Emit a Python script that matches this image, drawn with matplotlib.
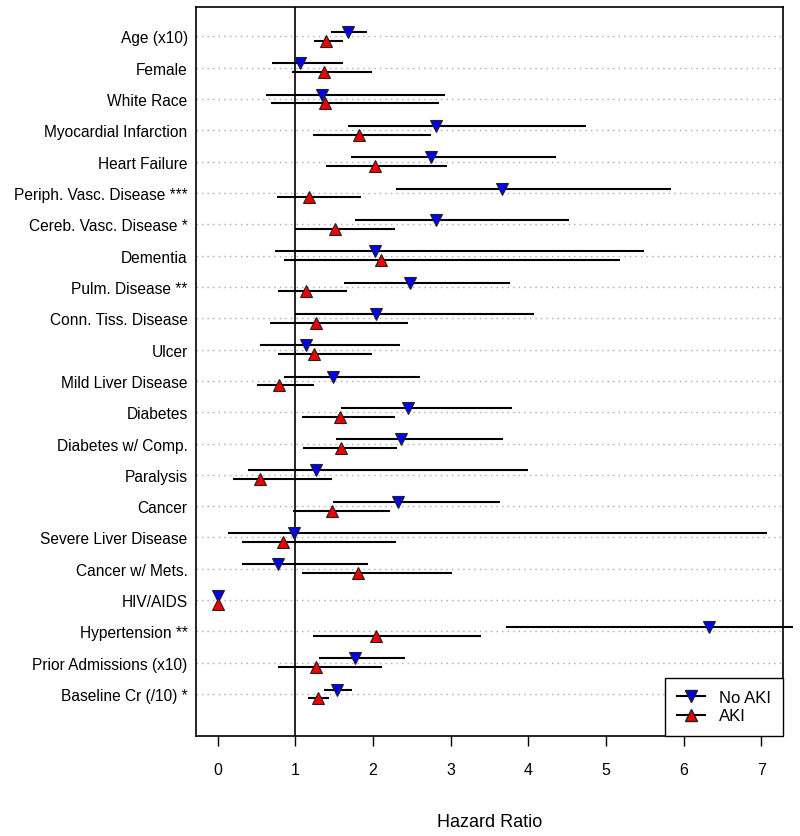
import numpy as np
import matplotlib
matplotlib.use("Agg")
import matplotlib.pyplot as plt
from matplotlib.lines import Line2D

plt.rcParams['font.family'] = ['Liberation Sans', 'DejaVu Sans']

labels = ["Age (x10)", "Female", "White Race", "Myocardial Infarction", "Heart Failure",
          "Periph. Vasc. Disease ***", "Cereb. Vasc. Disease *", "Dementia", "Pulm. Disease **",
          "Conn. Tiss. Disease", "Ulcer", "Mild Liver Disease", "Diabetes", "Diabetes w/ Comp.",
          "Paralysis", "Cancer", "Severe Liver Disease", "Cancer w/ Mets.", "HIV/AIDS",
          "Hypertension **", "Prior Admissions (x10)", "Baseline Cr (/10) *"]

# No AKI: hazard ratio, lower and upper CI
noaki_hr = [1.68, 1.06, 1.34, 2.81, 2.74, 3.66, 2.81, 2.02, 2.47, 2.04, 1.13, 1.49,
            2.45, 2.36, 1.26, 2.32, 0.98, 0.78, 0.0, 6.32, 1.77, 1.54]
noaki_lo = [1.46, 0.70, 0.62, 1.68, 1.72, 2.29, 1.77, 0.74, 1.62, 1.00, 0.55, 0.85,
            1.59, 1.52, 0.39, 1.48, 0.13, 0.31, 0.0, 3.71, 1.30, 1.37]
noaki_hi = [1.92, 1.61, 2.92, 4.74, 4.35, 5.84, 4.52, 5.49, 3.76, 4.07, 2.34, 2.60,
            3.79, 3.67, 4.00, 3.63, 7.07, 1.93, 0.0, 7.40, 2.41, 1.73]

# AKI
aki_hr = [1.40, 1.37, 1.38, 1.82, 2.03, 1.18, 1.51, 2.10, 1.13, 1.27, 1.24, 0.79,
          1.57, 1.59, 0.54, 1.47, 0.84, 1.80, 0.0, 2.04, 1.27, 1.29]
aki_lo = [1.24, 0.95, 0.68, 1.22, 1.39, 0.76, 1.00, 0.85, 0.77, 0.67, 0.78, 0.51,
          1.08, 1.10, 0.20, 0.97, 0.31, 1.08, 0.0, 1.23, 0.77, 1.16]
aki_hi = [1.61, 1.99, 2.85, 2.75, 2.95, 1.85, 2.28, 5.18, 1.66, 2.45, 1.98, 1.24,
          2.28, 2.31, 1.47, 2.22, 2.29, 3.02, 0.0, 3.39, 2.11, 1.43]

n = len(labels)
ypos = np.arange(n, 0, -1)
off = 0.14

fig = plt.figure(figsize=(8, 8.37), dpi=100)
ax = fig.add_axes([0.245, 0.1195, 0.734, 0.8705])

for y in ypos:
    ax.axhline(y, color='#aaaaaa', linestyle=(0, (1, 3)), linewidth=1, zorder=1)
ax.axvline(1, color='black', linewidth=1.2, zorder=2)

for i in range(n):
    y = ypos[i]
    ax.plot([noaki_lo[i], noaki_hi[i]], [y + off, y + off], color='black', linewidth=1.5,
            zorder=3, clip_on=False, solid_capstyle='butt')
    ax.plot([aki_lo[i], aki_hi[i]], [y - off, y - off], color='black', linewidth=1.5,
            zorder=3, clip_on=False, solid_capstyle='butt')

ax.plot(noaki_hr, ypos + off, linestyle='none', marker='v', markersize=8.5,
        markerfacecolor='#0000ee', markeredgecolor='#222222', markeredgewidth=0.8, zorder=4)
ax.plot(aki_hr, ypos - off, linestyle='none', marker='^', markersize=8.5,
        markerfacecolor='#ee0000', markeredgecolor='#222222', markeredgewidth=0.8, zorder=4)

ax.set_xlim(-0.28, 7.28)
ax.set_ylim(-0.34, n + 0.93)
ax.set_xticks(range(8))
ax.tick_params(axis='x', length=7, width=1, pad=12, labelsize=11.5)
ax.set_yticks(ypos)
ax.set_yticklabels(labels, fontsize=11.2)
ax.tick_params(axis='y', length=0, pad=6)
ax.set_xlabel("Hazard Ratio", fontsize=13, labelpad=26)
for s in ax.spines.values():
    s.set_linewidth(1.2)

handles = [Line2D([0], [0], color='black', linewidth=1.5, marker='v', markersize=8.5,
                  markerfacecolor='#0000ee', markeredgecolor='#222222'),
           Line2D([0], [0], color='black', linewidth=1.5, marker='^', markersize=8.5,
                  markerfacecolor='#ee0000', markeredgecolor='#222222')]
leg = ax.legend(handles, ["No AKI", "AKI"], loc='lower right', fontsize=12,
                fancybox=False, framealpha=1, edgecolor='black', borderaxespad=0,
                handlelength=1.7, handletextpad=0.8, labelspacing=0.2, borderpad=0.75)
leg.get_frame().set_linewidth(1.0)
leg.set_zorder(5)

fig.savefig("out.png", dpi=100)
